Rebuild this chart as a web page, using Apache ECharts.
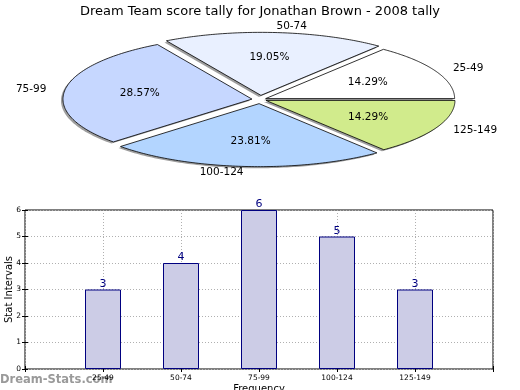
<!DOCTYPE html>
<html><head><meta charset="utf-8">
<script src="https://cdn.jsdelivr.net/npm/echarts@6/dist/echarts.min.js"></script>
<style>html,body{margin:0;padding:0;background:#fff}#c{width:520px;height:390px}</style>
</head><body><div id="c"></div>
<script>
const chartTitle = 'Dream Team score tally for Jonathan Brown - 2008 tally';
const categories = ['25-49', '50-74', '75-99', '100-124', '125-149'];
const counts = [3, 4, 6, 5, 3];
const yTicks = [0, 1, 2, 3, 4, 5, 6];
const xAxisName = 'Frequency';
const yAxisName = 'Stat Intervals';
const watermark = 'Dream-Stats.com';

// styles / layout (not data)
const sliceColors = ['#ffffff', '#e9f0ff', '#c6d7ff', '#b3d5ff', '#d1eb8c'];
const explode = [0.033, 0.066, 0.043, 0.066, 0.035];
const PIE = { cx: 260, cy: 99.5, rx: 189, ry: 63 };
const FONT = 'DejaVu Sans';

const total = counts.reduce((a, b) => a + b, 0);
function sliceGeom(i) {
  let s = 0;
  for (let k = 0; k < i; k++) s += counts[k];
  const a0 = s / total * 2 * Math.PI, a1 = (s + counts[i]) / total * 2 * Math.PI;
  const m = (a0 + a1) / 2, e = explode[i];
  return { a0, a1, m, cx: PIE.cx + e * PIE.rx * Math.cos(m), cy: PIE.cy - e * PIE.ry * Math.sin(m) };
}
function slicePts(g, dx, dy) {
  const p = [[g.cx + dx, g.cy + dy]];
  const n = 90;
  for (let j = 0; j <= n; j++) {
    const a = g.a0 + (g.a1 - g.a0) * j / n;
    p.push([g.cx + dx + PIE.rx * Math.cos(a), g.cy + dy - PIE.ry * Math.sin(a)]);
  }
  return p;
}

const pieData = counts.map((v, i) => ({ name: categories[i], value: v }));

const chart = echarts.init(document.getElementById('c'));
chart.setOption({
  animation: false,
  backgroundColor: '#fff',
  title: {
    text: chartTitle, left: 'center', top: 0,
    textStyle: { fontFamily: FONT, fontSize: 13, fontWeight: 'normal', color: '#000' }
  },
  graphic: [{
    type: 'text', left: 0, top: 374, z: -10,
    style: { text: watermark, fill: '#9a9a9a', fontFamily: FONT, fontSize: 11.5, fontWeight: 'bold' }
  }],
  grid: {
    left: 25, right: 27, top: 210, bottom: 21, show: true, containLabel: false, outerBoundsMode: 'none',
    borderColor: '#000', borderWidth: 1, backgroundColor: 'transparent'
  },
  xAxis: [{
    type: 'value', min: 0, max: 6, interval: 1,
    name: xAxisName, nameLocation: 'middle', nameGap: 15, nameMoveOverlap: false,
    nameTextStyle: { fontFamily: FONT, fontSize: 10, color: '#000' },
    axisLine: { show: false },
    axisTick: { show: true, inside: true, length: 3, lineStyle: { color: '#000' } },
    axisLabel: { formatter: v => categories[v - 1] || '', fontFamily: FONT, fontSize: 7.5, color: '#000', margin: 5 },
    splitLine: { show: true, lineStyle: { color: '#b0b0b0', type: [1, 2] } }
  }, {
    type: 'value', position: 'top', min: 0, max: 6, interval: 1,
    axisLine: { show: false },
    axisTick: { show: true, inside: true, length: 3, lineStyle: { color: '#000' } },
    axisLabel: { show: false }, splitLine: { show: false }
  }],
  yAxis: [{
    type: 'value', min: yTicks[0], max: yTicks[yTicks.length - 1], interval: 1,
    name: yAxisName, nameLocation: 'middle', nameGap: 11, nameMoveOverlap: false,
    nameTextStyle: { fontFamily: FONT, fontSize: 10, color: '#000' },
    axisLine: { show: false },
    axisTick: { show: true, inside: true, length: 3, lineStyle: { color: '#000' } },
    axisLabel: { fontFamily: FONT, fontSize: 7.5, color: '#000', margin: 4 },
    splitLine: { show: true, lineStyle: { color: '#b0b0b0', type: [1, 2] } }
  }, {
    type: 'value', position: 'right', min: yTicks[0], max: yTicks[yTicks.length - 1], interval: 1,
    axisLine: { show: false },
    axisTick: { show: true, inside: true, length: 3, lineStyle: { color: '#000' } },
    axisLabel: { show: false }, splitLine: { show: false }
  }],
  series: [{
    type: 'bar', xAxisIndex: 0, yAxisIndex: 0,
    data: counts.map((v, i) => [i + 1, v]),
    barWidth: 36,
    itemStyle: { color: '#ccccE6', borderColor: '#000080', borderWidth: 1 },
    label: { show: true, position: 'top', distance: 0, color: '#000080', fontFamily: FONT, fontSize: 11,
      formatter: p => String(p.value[1]) }
  }, {
    type: 'custom', coordinateSystem: 'none', z: 1, silent: true,
    data: pieData,
    renderItem: (params, api) => {
      const g = sliceGeom(params.dataIndex);
      return { type: 'polygon', shape: { points: slicePts(g, -2, 1.6) },
        style: { fill: '#000', opacity: 0.38 } };
    }
  }, {
    type: 'custom', coordinateSystem: 'none', z: 2, silent: true,
    data: pieData,
    renderItem: (params, api) => {
      const i = params.dataIndex;
      const g = sliceGeom(i);
      const v = api.value(0);
      const pct = (v / total * 100).toFixed(2) + '%';
      const cm = Math.cos(g.m), sm = Math.sin(g.m);
      return { type: 'group', children: [
        { type: 'polygon', shape: { points: slicePts(g, 0, 0) },
          style: { fill: sliceColors[i], stroke: '#000', lineWidth: 0.8 } },
        { type: 'text', z2: 10, style: { text: pct, x: g.cx + 0.6 * PIE.rx * cm, y: g.cy - 0.6 * PIE.ry * sm,
          align: 'center', verticalAlign: 'middle', fill: '#000', fontFamily: FONT, fontSize: 10.5 } },
        { type: 'text', z2: 10, style: { text: categories[i], x: g.cx + 1.1 * PIE.rx * cm, y: g.cy - 1.1 * PIE.ry * sm,
          align: cm > 0 ? 'left' : 'right', verticalAlign: 'middle', fill: '#000', fontFamily: FONT, fontSize: 10.5 } }
      ] };
    }
  }]
});
</script></body></html>
